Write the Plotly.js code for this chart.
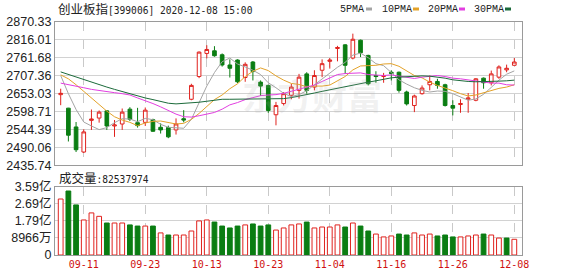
<!DOCTYPE html>
<html><head><meta charset="utf-8">
<script src="https://cdn.plot.ly/plotly-3.0.1.min.js"></script>
<style>html,body{margin:0;padding:0;background:#fff;}#chart{width:578px;height:276px;}</style>
</head><body><div id="chart"></div>
<script>
const dates = ['09-08','09-09','09-10','09-11','09-14','09-15','09-16','09-17','09-18','09-21','09-22','09-23','09-24','09-25','09-28','09-29','09-30',
 '10-09','10-12','10-13','10-14','10-15','10-16','10-19','10-20','10-21','10-22','10-23','10-26','10-27','10-28','10-29','10-30',
 '11-02','11-03','11-04','11-05','11-06','11-09','11-10','11-11','11-12','11-13','11-16','11-17','11-18','11-19','11-20','11-23','11-24','11-25','11-26','11-27','11-30',
 '12-01','12-02','12-03','12-04','12-07','12-08'];
const openP  = [2650,2609,2552,2476,2572,2579,2601,2555,2561,2606,2565,2566,2574,2551,2550,2543,2577,2636,2705,2775,2783,2771,2740,2755,2702,2749,2688,2678,2589,2623,2648,2663,2713,2673,2724,2751,2790,2801,2761,2815,2769,2708,2705,2718,2718,2658,2617,2653,2680,2690,2680,2617,2620,2636,2633,2700,2686,2703,2725,2739];
const highP  = [2668,2610,2567,2545,2605,2602,2602,2573,2608,2612,2610,2611,2577,2563,2556,2578,2603,2683,2781,2800,2797,2775,2757,2757,2748,2752,2693,2680,2628,2658,2683,2713,2718,2724,2757,2761,2798,2803,2835,2817,2771,2721,2716,2724,2720,2662,2650,2678,2708,2698,2683,2633,2636,2655,2700,2702,2723,2739,2741,2761];
const lowP   = [2618,2508,2476,2473,2543,2565,2543,2522,2543,2570,2550,2555,2537,2532,2518,2529,2566,2633,2700,2760,2765,2735,2702,2685,2689,2693,2646,2595,2557,2617,2636,2638,2653,2663,2703,2729,2751,2713,2757,2764,2678,2686,2686,2693,2656,2617,2597,2650,2663,2668,2614,2587,2595,2595,2630,2668,2678,2698,2718,2739];
const closeP = [2654,2527,2483,2537,2576,2597,2555,2558,2597,2575,2556,2603,2539,2543,2522,2561,2573,2678,2779,2787,2768,2740,2730,2689,2742,2720,2676,2602,2617,2653,2673,2703,2663,2708,2744,2755,2793,2739,2818,2777,2683,2705,2708,2714,2663,2622,2646,2670,2690,2678,2617,2609,2623,2640,2698,2686,2713,2734,2730,2749];
const ma5  = [2708,2653,2605,2567,2555,2544,2550,2565,2577,2576,2568,2578,2574,2560,2551,2550,2548,2575,2623,2676,2717,2750,2761,2743,2734,2724,2711,2686,2671,2654,2644,2650,2662,2680,2698,2715,2733,2748,2770,2776,2762,2744,2738,2717,2695,2682,2671,2663,2658,2661,2660,2653,2643,2633,2637,2651,2672,2694,2712,2722];
const ma10 = [2710,2698,2680,2660,2640,2622,2600,2583,2573,2566,2556,2564,2569,2570,2565,2561,2563,2575,2593,2614,2635,2649,2668,2683,2705,2721,2731,2723,2707,2694,2684,2681,2674,2676,2676,2679,2691,2705,2725,2737,2738,2739,2743,2744,2736,2722,2708,2701,2688,2678,2671,2662,2653,2646,2649,2656,2662,2669,2673,2680];
const ma20 = [2685,2681,2676,2671,2666,2662,2659,2656,2653,2649,2640,2632,2623,2613,2602,2591,2583,2582,2586,2590,2596,2606,2619,2626,2635,2641,2647,2649,2650,2654,2660,2665,2671,2679,2690,2700,2711,2714,2716,2716,2711,2710,2708,2710,2706,2701,2699,2703,2706,2708,2705,2700,2698,2695,2692,2689,2685,2685,2680,2679];
const ma30 = [2719,2711,2703,2695,2687,2680,2673,2666,2659,2653,2647,2640,2635,2629,2624,2622,2623,2625,2627,2630,2634,2636,2636,2636,2636,2637,2637,2636,2636,2638,2641,2645,2650,2655,2660,2665,2670,2675,2680,2684,2688,2692,2697,2701,2703,2705,2706,2707,2706,2704,2700,2695,2692,2690,2689,2689,2690,2691,2692,2694];
const volume = [2.94,3.36,2.63,1.84,2.21,2.03,1.68,1.68,1.68,1.58,1.52,1.52,1.52,1.16,1.05,1.05,1.05,1.26,1.79,1.84,1.73,1.52,1.42,1.52,1.58,1.63,1.52,1.58,1.31,1.42,1.58,1.63,1.73,1.42,1.47,1.47,1.58,1.47,1.68,1.52,1.26,1.10,0.95,1.00,1.10,1.05,1.16,1.05,1.10,1.00,1.05,0.95,0.95,1.00,1.05,1.10,1.05,0.89,0.89,0.825];
const priceTicks = [2435.74,2490.06,2544.39,2598.71,2653.03,2707.36,2761.68,2816.01,2870.33];
const priceTickText = ['2435.74','2490.06','2544.39','2598.71','2653.03','2707.36','2761.68','2816.01','2870.33'];
const volTicks = [0,0.8966,1.7932,2.6898,3.5864];
const volTickText = ['0','8966万','1.79亿','2.69亿','3.59亿'];
const dateTicks = ['09-11','09-23','10-13','10-23','11-04','11-16','11-26','12-08'];
const maNames = ['5PMA','10PMA','20PMA','30PMA'];
const titleName = '创业板指';
const titleRest = '[399006] 2020-12-08 15:00';
const volLabel = '成交量';
const volLast = ':82537974';

const RED = '#e0221e', GREEN = '#0a7d12';
const maColors = ['#a4a4a4','#e3a22a','#e23ee0','#1b6a3a'];
const W = 578, H = 276, L = 55, R = 522, T = 22, B = 255;
const px = x => (x - L) / (R - L);
const py = y => (B - y) / (B - T);

const volColors = volume.map((v, i) => (i === 0 || closeP[i] >= closeP[i-1]) ? 'white' : GREEN);
const volLines = volume.map((v, i) => (i === 0 || closeP[i] >= closeP[i-1]) ? RED : GREEN);

const traces = [
 {type:'candlestick', x:dates, open:openP, high:highP, low:lowP, close:closeP, xaxis:'x', yaxis:'y',
  increasing:{line:{color:RED,width:1}, fillcolor:'white'},
  decreasing:{line:{color:GREEN,width:1}, fillcolor:GREEN},
  whiskerwidth:0, hoverinfo:'skip', showlegend:false}
];
[ma5, ma10, ma20, ma30].forEach((m, k) => traces.push({type:'scatter', mode:'lines', x:dates, y:m, xaxis:'x', yaxis:'y',
  line:{color:maColors[k], width:1}, hoverinfo:'skip', showlegend:false}));
traces.push({type:'bar', x:dates, y:volume, xaxis:'x2', yaxis:'y2', width:0.62,
  marker:{color:volColors, line:{color:volLines, width:1}}, hoverinfo:'skip', showlegend:false});

const xr = [-0.74, 60.0];
const axFont = {family:'Liberation Sans, Arial, sans-serif', size:12.5, color:'#222'};
const xbase = {type:'category', range:xr, showgrid:true, gridcolor:'#c9c9c9', griddash:'dash', gridwidth:1,
  tickvals:dateTicks, ticks:'', showline:true, linecolor:'#9a9a9a', linewidth:1, mirror:true, zeroline:false, fixedrange:true};
const layout = {
 width:W, height:H, margin:{l:L, r:W-R, t:T, b:H-B, pad:0},
 paper_bgcolor:'#fff', plot_bgcolor:'#fff', showlegend:false, boxgap:0.32,
 xaxis: Object.assign({}, xbase, {anchor:'y', showticklabels:false, rangeslider:{visible:false}}),
 xaxis2: Object.assign({}, xbase, {anchor:'y2', matches:'x', showticklabels:true,
   tickfont:{family:'DejaVu Sans Mono, monospace', size:10, color:'#d01010'}}),
 yaxis: {domain:[py(165.3), 1], range:[priceTicks[0], priceTicks[8]], tickvals:priceTicks, ticktext:priceTickText,
   showgrid:true, gridcolor:'#d2d2d2', gridwidth:1, ticks:'', tickfont:axFont, showline:true, linecolor:'#9a9a9a', mirror:true, zeroline:false, fixedrange:true},
 yaxis2: {domain:[0, py(186.7)], range:[0, volTicks[4]], tickvals:volTicks, ticktext:volTickText,
   showgrid:true, gridcolor:'#d2d2d2', gridwidth:1, ticks:'', tickfont:Object.assign({}, axFont, {family:'Liberation Sans, Noto Sans CJK SC, sans-serif'}), showline:true, linecolor:'#9a9a9a', mirror:true, zeroline:false, fixedrange:true},
 annotations: [
  {xref:'paper', yref:'paper', x:px(56), y:py(9), xanchor:'left', yanchor:'middle', showarrow:false,
   text:'<span style="font-family:Noto Sans CJK SC;font-size:12.5px">'+titleName+'</span><span style="font-family:DejaVu Sans Mono;font-size:9.6px">'+titleRest+'</span>', font:{color:'#222', size:12}},
  {xref:'paper', yref:'paper', x:px(57), y:py(177), xanchor:'left', yanchor:'middle', showarrow:false,
   text:'<span style="font-family:Noto Sans CJK SC;font-size:12.5px">'+volLabel+'</span><span style="font-family:DejaVu Sans Mono;font-size:9.6px">'+volLast+'</span>', font:{color:'#222', size:12}},
  {xref:'paper', yref:'paper', x:px(312), y:py(94), xanchor:'center', yanchor:'middle', showarrow:false,
   text:'<b>东方财富</b>', font:{family:'Noto Sans CJK SC', size:35, color:'rgba(170,170,170,0.17)'}}
 ],
 shapes: []
};
const legX = [338, 380, 426, 472];
const sqX = [366, 413, 459, 505];
maNames.forEach((n, k) => {
  layout.annotations.push({xref:'paper', yref:'paper', x:px(legX[k]), y:py(9.5), xanchor:'left', yanchor:'middle', showarrow:false,
    text:n, font:{family:'Liberation Mono, monospace', size:10, color:'#222'}});
  layout.shapes.push({type:'rect', xref:'paper', yref:'paper', x0:px(sqX[k]), x1:px(sqX[k]+6), y0:py(10.5), y1:py(7.5),
    fillcolor:maColors[k], line:{width:0}});
});
Plotly.newPlot('chart', traces, layout, {staticPlot:true, displayModeBar:false});
</script></body></html>
